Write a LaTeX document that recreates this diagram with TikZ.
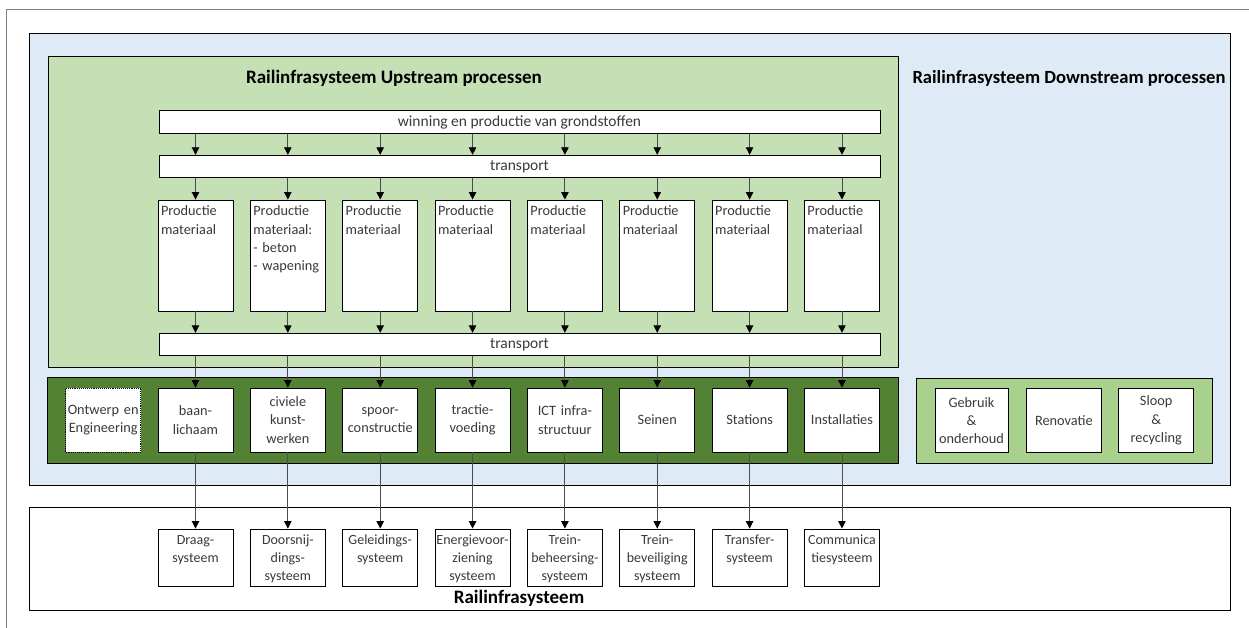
\documentclass[tikz,border=0pt]{standalone}
\usepackage{fontspec}
\setmainfont{Carlito}
\usetikzlibrary{arrows.meta,positioning}

\definecolor{kaderblauw}{HTML}{DEEBF7}
\definecolor{upgroen}{HTML}{C5E0B4}
\definecolor{downgroen}{HTML}{A9D18E}
\definecolor{donkergroen}{HTML}{548235}
\definecolor{tekstgrijs}{HTML}{3A3A3A}

\begin{document}
\begin{tikzpicture}[x=1pt,y=-1pt,>={Triangle[length=7.5pt,width=7.5pt,color=black]},
  node distance=92.35pt,
  every node/.style={font=\fontsize{14.3}{18.3}\selectfont, text=tekstgrijs},
  kader/.style={draw=black, line width=0.9pt},
  balk/.style={draw, fill=white, line width=0.9pt, minimum width=721pt, minimum height=22.5pt, inner sep=0pt, font=\fontsize{15.5}{18}\selectfont},
  prodbox/.style={draw, fill=white, line width=0.9pt, minimum width=75pt, text width=69pt, align=left, inner xsep=3pt, inner ysep=2pt, text height=14pt, text depth=93pt},
  onderdeel/.style={draw, fill=white, line width=0.9pt, minimum width=75pt, minimum height=64pt, text width=73pt, align=center, inner sep=1pt},
  systeem/.style={draw, fill=white, line width=0.9pt, minimum width=75pt, text width=74pt, align=center, inner xsep=0.5pt, inner ysep=2pt, text height=13pt, text depth=40pt, font=\fontsize{14}{18.3}\selectfont},
  titel/.style={font=\fontsize{19}{22}\selectfont\bfseries, text=black, anchor=base},
  pijl/.style={->, draw=black!70, line width=0.9pt}
]
  \useasboundingbox (0,0) rectangle (1249,628);
  % page frame
  \draw[black!50, line width=1pt] (6,628) -- (6,10) -- (1249,10);

  % Containers
  \filldraw[kader, fill=kaderblauw] (29,33) rectangle (1230,485);
  \filldraw[kader, fill=upgroen] (48,56) rectangle (898,367);
  \filldraw[kader, fill=donkergroen] (47,377) rectangle (898,463);
  \filldraw[kader, fill=downgroen] (916,378) rectangle (1212,463);
  \filldraw[kader, fill=white] (29,507) rectangle (1230,610);

  \node[titel] (up titel)   at (394,84)  {Railinfrasysteem Upstream processen};
  \node[titel, font=\fontsize{18.6}{22}\selectfont\bfseries] (down titel) at (1069,84) {Railinfrasysteem Downstream processen};
  \node[titel] (sys titel)  at (519,603) {Railinfrasysteem};

  % Upstream
  \node[balk] (winning)     at (519.5,122)   {winning en productie van grondstoffen};
  \node[balk] (transport 1) at (519.5,166.5) {transport};
  \node[balk] (transport 2) at (519.5,344.5) {transport};

  \node[prodbox] (prod 1) at (195.5,255.5) {Productie\\materiaal};
  \node[prodbox] (prod 2) [right of=prod 1] {Productie\\materiaal:\\-~beton\\-~wapening};
  \node[prodbox] (prod 3) [right of=prod 2] {Productie\\materiaal};
  \node[prodbox] (prod 4) [right of=prod 3] {Productie\\materiaal};
  \node[prodbox] (prod 5) [right of=prod 4] {Productie\\materiaal};
  \node[prodbox] (prod 6) [right of=prod 5] {Productie\\materiaal};
  \node[prodbox] (prod 7) [right of=prod 6] {Productie\\materiaal};
  \node[prodbox] (prod 8) [right of=prod 7] {Productie\\materiaal};

  % Onderdelen
  \node[onderdeel] (onderdeel 1) at (195.5,420) {baan-\\lichaam};
  \node[onderdeel, densely dotted] (ontwerp) [left of=onderdeel 1] {Ontwerp en\\Engineering};
  \node[onderdeel] (onderdeel 2) [right of=onderdeel 1] {civiele\\kunst-\\werken};
  \node[onderdeel] (onderdeel 3) [right of=onderdeel 2] {spoor-\\constructie};
  \node[onderdeel] (onderdeel 4) [right of=onderdeel 3] {tractie-\\voeding};
  \node[onderdeel] (onderdeel 5) [right of=onderdeel 4] {ICT infra-\\structuur};
  \node[onderdeel] (onderdeel 6) [right of=onderdeel 5] {Seinen};
  \node[onderdeel] (onderdeel 7) [right of=onderdeel 6] {Stations};
  \node[onderdeel] (onderdeel 8) [right of=onderdeel 7] {Installaties};

  % Downstream
  \node[onderdeel, minimum width=73pt, text width=71pt] (gebruik) at (971.5,420.5) {Gebruik\\\&\\onderhoud};
  \node[onderdeel] (renovatie) [right of=gebruik] {Renovatie};
  \node[onderdeel] (sloop) [right of=renovatie] {Sloop\\\&\\recycling};

  % Deelsystemen
  \node[systeem] (systeem 1) at (195.5,557.5) {Draag-\\systeem};
  \node[systeem] (systeem 2) [right of=systeem 1] {Doorsnij-\\dings-\\systeem};
  \node[systeem] (systeem 3) [right of=systeem 2] {Geleidings-\\systeem};
  \node[systeem] (systeem 4) [right of=systeem 3] {Energievoor-\\ziening\\systeem};
  \node[systeem] (systeem 5) [right of=systeem 4] {Trein-\\beheersing-\\systeem};
  \node[systeem] (systeem 6) [right of=systeem 5] {Trein-\\beveiliging\\systeem};
  \node[systeem] (systeem 7) [right of=systeem 6] {Transfer-\\systeem};
  \node[systeem] (systeem 8) [right of=systeem 7] {Communica\\tiesysteem};

  % Connecting edges
  \foreach \k in {1,...,8}{
    \draw[pijl] (winning.south -| prod \k) -- (transport 1.north -| prod \k);
    \draw[pijl] (transport 1.south -| prod \k) -- (prod \k);
    \draw[pijl] (prod \k) -- (transport 2.north -| prod \k);
    \draw[pijl] (transport 2.south -| prod \k) -- (onderdeel \k);
    \draw[pijl] (onderdeel \k) -- (systeem \k);
  }
\end{tikzpicture}
\end{document}
